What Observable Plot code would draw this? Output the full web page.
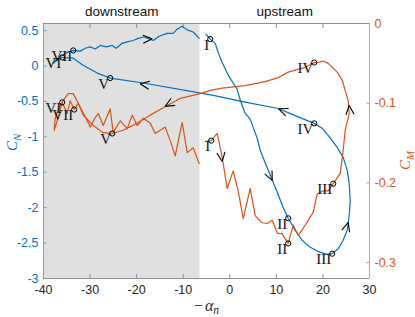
<!DOCTYPE html>
<html><head><meta charset="utf-8">
<script src="https://cdn.jsdelivr.net/npm/d3@7"></script>
<script src="https://cdn.jsdelivr.net/npm/@observablehq/plot@0.6"></script>
<style>html,body{margin:0;padding:0;background:#fff}svg{display:block}</style>
</head><body><div id="chart"></div>
<script>
const blue = "#0072BD", orange = "#D95319";
const xDomain = [-40, 30];
const cnDomain = [-3, 0.6];
const cmDomain = [-0.32, 0];
const xTicks = [-40, -30, -20, -10, 0, 10, 20, 30];
const cnTicks = [-3, -2.5, -2, -1.5, -1, -0.5, 0, 0.5];
const cmTicks = [-0.3, -0.2, -0.1, 0];
const regionNames = ["downstream", "upstream"];
const regionEdges = [-40, -6.4, 30];

// C_N, upstream part (I -> II -> III -> IV -> V -> VI)
const blueAX = [-5.13,-4.20,-3.13,-2.49,-1.63,-0.55,0.52,1.59,2.24,3.31,4.39,5.03,5.89,6.53,7.61,8.68,10.18,11.47,12.54,14.05,15.55,17.27,18.99,20.92,21.99,23.28,24.35,25.21,25.64,25.86,25.64,25.21,24.35,23.07,21.13,19.85,18.13,14.05,10.40,3.31,-3.77,-7.43,-18.59,-25.68,-28.47,-31.48,-33.62,-35.98,-37.49,-37.92];
const blueAY = [0.45,0.38,0.32,0.19,0.05,-0.10,-0.22,-0.33,-0.48,-0.67,-0.75,-0.87,-1.02,-1.19,-1.37,-1.54,-1.78,-2.00,-2.15,-2.32,-2.46,-2.56,-2.62,-2.66,-2.65,-2.58,-2.46,-2.32,-2.11,-1.90,-1.66,-1.47,-1.29,-1.15,-0.98,-0.88,-0.81,-0.70,-0.60,-0.51,-0.41,-0.37,-0.24,-0.17,-0.10,0.01,0.11,0.12,0.08,0.04];
// C_N, downstream noisy part (VI -> VII -> ...)
const blueBX = [-37.92,-37.06,-36.20,-34.91,-33.62,-32.12,-31.05,-29.97,-28.90,-27.82,-26.54,-25.25,-24.39,-23.10,-22.03,-20.74,-19.67,-18.59,-17.52,-16.44,-15.16,-13.44,-12.15,-11.29,-10.22,-9.15,-7.86,-6.57];
const blueBY = [0.04,0.08,0.14,0.19,0.22,0.21,0.25,0.27,0.24,0.29,0.27,0.29,0.25,0.32,0.34,0.36,0.39,0.41,0.39,0.36,0.42,0.46,0.46,0.52,0.56,0.51,0.48,0.39];
// C_M, upstream part
const orangeAX = [-5.28,-3.99,-2.70,-1.63,-0.55,0.73,1.81,2.88,4.39,5.46,6.96,8.04,9.11,10.18,11.26,12.54,13.62,14.69,15.77,16.84,17.91,18.77,20.06,21.13,22.21,23.71,24.35,24.78,25.64,25.43,24.14,23.07,21.13,20.06,18.99,18.13,16.20,12.54,10.39,7.61,3.31,-1.63,-4.20,-6.35,-10.65,-13.44,-17.09,-19.88,-22.89,-25.25,-27.18,-29.33,-31.48,-32.55,-33.62,-34.70,-35.34,-35.98,-36.84,-37.49,-37.70];
const orangeAY = [-0.148,-0.147,-0.138,-0.168,-0.207,-0.185,-0.210,-0.245,-0.207,-0.241,-0.250,-0.251,-0.247,-0.263,-0.264,-0.276,-0.253,-0.266,-0.257,-0.247,-0.237,-0.214,-0.210,-0.210,-0.201,-0.188,-0.159,-0.134,-0.113,-0.097,-0.071,-0.061,-0.050,-0.047,-0.049,-0.049,-0.055,-0.061,-0.068,-0.073,-0.078,-0.081,-0.084,-0.088,-0.094,-0.103,-0.115,-0.125,-0.134,-0.138,-0.137,-0.128,-0.115,-0.100,-0.088,-0.088,-0.093,-0.099,-0.107,-0.119,-0.132];
// C_M, downstream noisy part
const orangeBX = [-37.70,-36.84,-35.98,-34.91,-34.27,-33.41,-32.55,-31.48,-29.97,-28.90,-28.25,-27.18,-25.68,-25.03,-23.53,-22.03,-20.95,-19.88,-18.59,-17.09,-16.01,-14.94,-13.87,-12.79,-11.72,-10.22,-9.14,-7.86,-6.57];
const orangeBY = [-0.134,-0.118,-0.099,-0.113,-0.097,-0.108,-0.100,-0.112,-0.130,-0.118,-0.113,-0.128,-0.107,-0.137,-0.122,-0.132,-0.115,-0.128,-0.119,-0.125,-0.138,-0.134,-0.130,-0.147,-0.166,-0.124,-0.162,-0.156,-0.176];

const markerLabels = ["I","II","III","IV","V","VI","VII"];
const blueMarkX = [-4.20, 12.54, 21.99, 18.13, -25.68, -35.98, -33.62];
const blueMarkY = [0.38, -2.15, -2.65, -0.81, -0.17, 0.12, 0.22];
const orangeMarkX = [-3.99, 12.54, 22.21, 18.13, -25.25, -35.98, -33.41];
const orangeMarkY = [-0.147, -0.276, -0.201, -0.049, -0.138, -0.099, -0.108];

// direction arrows: tip position, which axis, heading (deg, screen)
const arrowX = [-16.66, -19.24, -13.87, 10.5, 25.64, -1.63, 9.11, 25.43];
const arrowY = [0.385, -0.251, -0.104, -0.604, -0.1028, -0.1732, -1.615, -2.208];
const arrowAxis = ["N","N","M","N","M","M","N","N"];
const arrowAngle = [-3, 189, 150, 202, 265, 82, 65, 286];

const W = 415, H = 317, mL = 43, mR = 46, mT = 23, mB = 39;
const toLeft = d3.scaleLinear(cmDomain, cnDomain);
const xs = d3.scaleLinear(xDomain, [mL, W - mR]);
const ys = d3.scaleLinear(cnDomain, [H - mB, mT]);

const zip = (X, Y) => X.map((x, i) => ({x, y: Y[i]}));
const blueA = zip(blueAX, blueAY), blueB = zip(blueBX, blueBY);
const orangeA = zip(orangeAX, orangeAY.map(toLeft)), orangeB = zip(orangeBX, orangeBY.map(toLeft));
const blueMarks = blueMarkX.map((x, i) => ({x, y: blueMarkY[i], t: markerLabels[i]}));
const orangeMarks = orangeMarkX.map((x, i) => ({x, y: toLeft(orangeMarkY[i]), t: markerLabels[i]}));

const wingLen = 10, wingHalf = 24;
const wings = [];
arrowX.forEach((x, i) => {
  const yv = arrowAxis[i] === "M" ? toLeft(arrowY[i]) : arrowY[i];
  const px = xs(x), py = ys(yv);
  for (const s of [-1, 1]) {
    const a = (arrowAngle[i] + s * wingHalf) * Math.PI / 180;
    wings.push({x1: x, y1: yv, x2: xs.invert(px - wingLen * Math.cos(a)), y2: ys.invert(py - wingLen * Math.sin(a))});
  }
});
const regions = regionNames.map((n, i) => ({n, x1: regionEdges[i], x2: regionEdges[i + 1], mid: (regionEdges[i] + regionEdges[i + 1]) / 2}));

const lw = 1.2;
const chart = Plot.plot({
  width: W, height: H, marginLeft: mL, marginRight: mR, marginTop: mT, marginBottom: mB,
  x: {domain: xDomain}, y: {domain: cnDomain},
  style: {fontFamily: "Liberation Sans, Arial, sans-serif", fontSize: "12.5px", background: "#fff", color: "#262626"},
  marks: [
    Plot.rect(regions.slice(0, 1), {x1: "x1", x2: "x2", y1: () => cnDomain[0], y2: () => cnDomain[1], fill: "#e0e0e0"}),
    Plot.axisX({anchor: "bottom", ticks: xTicks, tickFormat: d => String(d), tickSize: -4, tickPadding: 11, stroke: "#8c8c8c", fill: "#262626", label: null}),
    Plot.axisX({anchor: "top", ticks: xTicks, tickFormat: () => "", tickSize: -4, tickPadding: 0, stroke: "#8c8c8c", label: null}),
    Plot.axisY({anchor: "left", ticks: cnTicks, tickFormat: d => String(d), tickSize: -4, tickPadding: 9, stroke: "#6aa6d6", fill: blue, label: null}),
    Plot.axisY({anchor: "right", ticks: cmTicks.map(toLeft), tickFormat: d => String(Math.round(toLeft.invert(d) * 10) / 10), tickSize: -4, tickPadding: 9, stroke: "#e89a78", fill: orange, label: null}),
    Plot.line(blueA, {x: "x", y: "y", stroke: blue, strokeWidth: lw}),
    Plot.line(blueB, {x: "x", y: "y", stroke: blue, strokeWidth: lw}),
    Plot.line(orangeA, {x: "x", y: "y", stroke: orange, strokeWidth: lw}),
    Plot.line(orangeB, {x: "x", y: "y", stroke: orange, strokeWidth: lw}),
    Plot.link(wings, {x1: "x1", y1: "y1", x2: "x2", y2: "y2", stroke: "black", strokeWidth: 1.1}),
    Plot.dot(blueMarks, {x: "x", y: "y", r: 2.6, stroke: "black", strokeWidth: 1, fill: "none"}),
    Plot.dot(orangeMarks, {x: "x", y: "y", r: 2.6, stroke: "black", strokeWidth: 1, fill: "none"}),
    Plot.text(blueMarks.concat(orangeMarks), {x: "x", y: "y", text: "t", textAnchor: "end", lineAnchor: "top", dx: -1, fontFamily: "Liberation Serif, Times New Roman, serif", fontSize: 15, fill: "#111"}),
    Plot.ruleX([xDomain[0]], {stroke: "#6aa6d6"}),
    Plot.ruleX([xDomain[1]], {stroke: "#e89a78"}),
    Plot.ruleY([cnDomain[0], cnDomain[1]], {stroke: "#8c8c8c"}),
    Plot.text(regions, {x: "mid", text: "n", frameAnchor: "top", lineAnchor: "bottom", dy: -7.5, fontSize: 13.5, fill: "#111"}),
    Plot.text(["−αn"], {frameAnchor: "bottom", lineAnchor: "bottom", dy: 32, fontFamily: "Liberation Serif, Times New Roman, serif", fontSize: 16, fill: "#262626"}),
    Plot.text(["CN"], {frameAnchor: "left", dx: -31, rotate: -90, lineAnchor: "middle", fontFamily: "Liberation Serif, Times New Roman, serif", fontSize: 15, fill: blue}),
    Plot.text(["CM"], {frameAnchor: "right", dx: 36, rotate: -90, lineAnchor: "middle", fontFamily: "Liberation Serif, Times New Roman, serif", fontSize: 15, fill: orange})
  ]
});
document.getElementById("chart").appendChild(chart);

function subscriptify(full, prefix, base, sub) {
  d3.select(chart).selectAll("text").filter(function () { return this.textContent === full; }).each(function () {
    const t = d3.select(this);
    t.text(null);
    if (prefix) t.append("tspan").text(prefix);
    t.append("tspan").attr("font-style", "italic").attr("dx", prefix ? 2 : 0).text(base);
    t.append("tspan").attr("font-style", "italic").attr("font-size", "72%").attr("dy", "0.3em").text(sub);
  });
}
subscriptify("−αn", "−", "α", "n");
subscriptify("CN", "", "C", "N");
subscriptify("CM", "", "C", "M");
</script>
</body></html>
